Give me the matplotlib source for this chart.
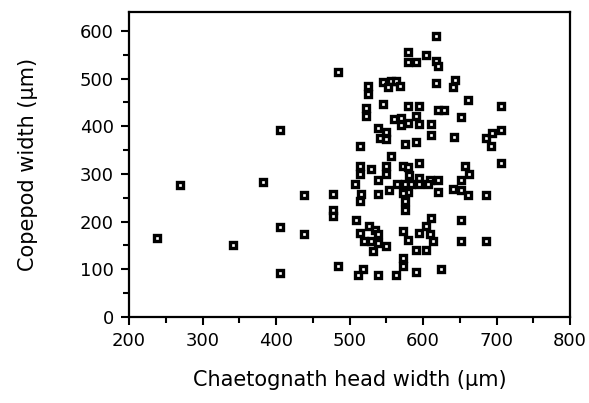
import matplotlib
matplotlib.use("Agg")
import matplotlib.pyplot as plt
from matplotlib.ticker import MultipleLocator

plt.rcParams['font.family'] = ['DejaVu Sans']

# chaetognath head width (um) vs copepod width (um)
head_width = [
    406, 270, 382, 438, 406, 438, 238, 341, 406,
    617, 579, 604, 580, 590, 618, 620, 484, 618, 525,
    525, 545, 557, 563, 552, 568, 545, 523, 523, 579,
    595, 620, 629, 561, 570, 590, 579, 570, 595, 611,
    538, 550, 541, 550, 611, 642, 514, 575, 590, 557,
    514, 529, 550, 572, 579, 595, 514, 550, 538, 581,
    595, 609, 620, 620, 507, 565, 575, 584, 554, 579,
    516, 514, 538, 595, 606, 572, 575, 575, 477, 478,
    478, 509, 611, 604, 595, 609, 527, 534, 538, 514,
    520, 529, 538, 550, 532, 572, 579, 590, 604, 613,
    572, 572, 484, 518, 511, 538, 563, 590, 624, 644,
    640, 661, 706, 652, 686, 694, 706, 692, 657, 706,
    662, 652, 640, 652, 661, 685, 652, 652, 685,
]
copepod_width = [
    392, 276, 283, 255, 188, 175, 166, 150, 92,
    589, 555, 549, 535, 535, 538, 526, 514, 491, 485,
    467, 492, 495, 495, 482, 485, 446, 439, 422, 442,
    442, 434, 434, 416, 418, 422, 408, 402, 404, 404,
    397, 388, 376, 373, 381, 378, 359, 362, 367, 338,
    317, 310, 317, 316, 314, 324, 299, 299, 287, 297,
    292, 288, 287, 262, 280, 280, 280, 280, 267, 262,
    259, 243, 259, 278, 278, 260, 243, 225, 259, 225,
    211, 204, 208, 190, 176, 175, 190, 183, 175, 176,
    159, 159, 156, 148, 138, 180, 162, 141, 141, 159,
    124, 107, 107, 100, 88, 88, 88, 95, 100, 498,
    482, 455, 442, 420, 376, 387, 392, 359, 316, 324,
    299, 287, 269, 266, 255, 255, 203, 159, 159,
]

fig = plt.figure(figsize=(5.89, 4.03), dpi=100)
ax = fig.add_axes([0.219, 0.2134, 0.749, 0.757])

ax.plot(head_width, copepod_width, linestyle='none', marker='s',
        markersize=4.3, markerfacecolor='white', markeredgecolor='black',
        markeredgewidth=2.4)

ax.set_xlim(200, 800)
ax.set_ylim(0, 640)
ax.xaxis.set_major_locator(MultipleLocator(100))
ax.xaxis.set_minor_locator(MultipleLocator(50))
ax.yaxis.set_major_locator(MultipleLocator(100))
ax.yaxis.set_minor_locator(MultipleLocator(50))
ax.tick_params(which='both', direction='out', width=1.5, labelsize=13)
ax.tick_params(which='major', length=6, pad=5)
ax.tick_params(which='minor', length=4)
for s in ax.spines.values():
    s.set_linewidth(1.6)

ax.set_xlabel('Chaetognath head width (\u03bcm)', fontsize=15, labelpad=14)
ax.set_ylabel('Copepod width (\u03bcm)', fontsize=15, labelpad=30)

fig.savefig('out.png', dpi=100)
